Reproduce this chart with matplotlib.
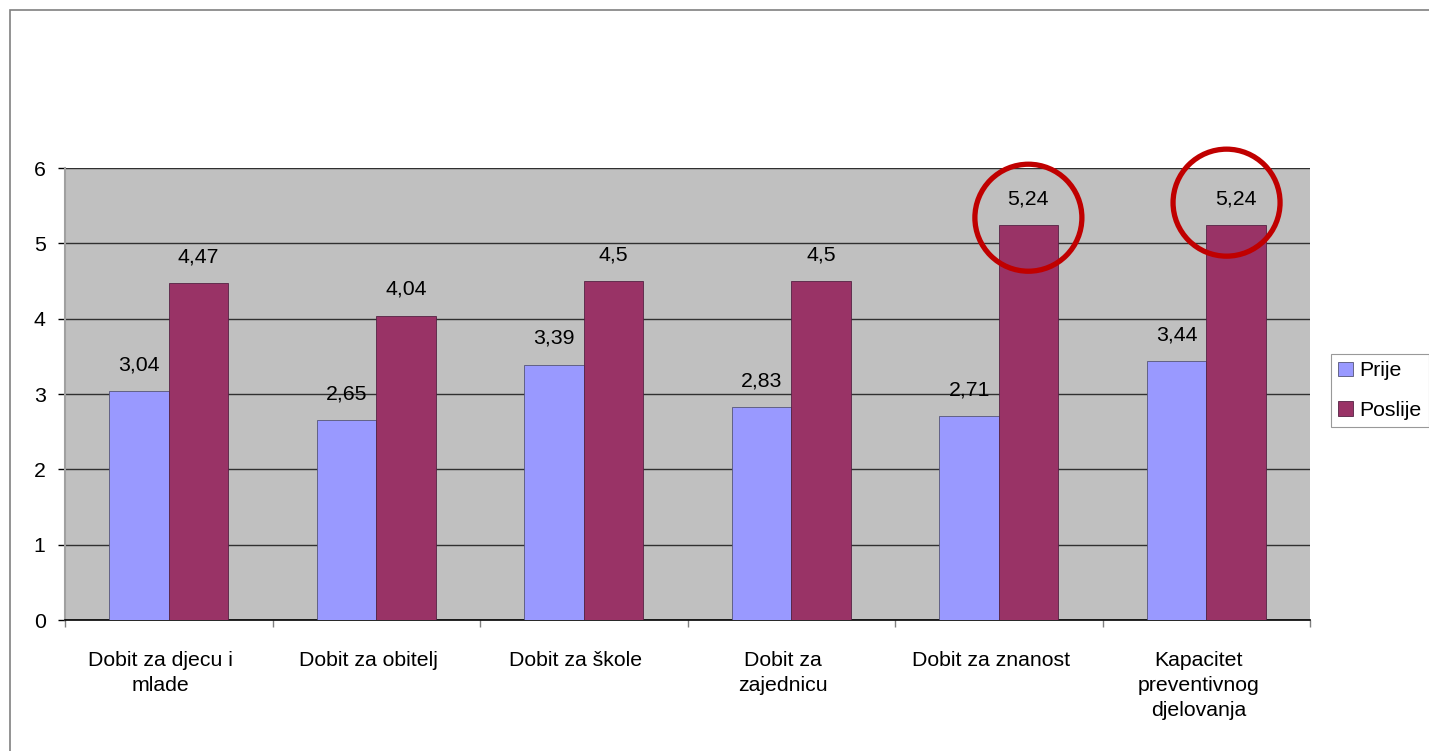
import matplotlib
matplotlib.use("Agg")
import matplotlib.pyplot as plt
import matplotlib.transforms as mtransforms
import numpy as np
from matplotlib.patches import Ellipse, Rectangle

categories = ["Dobit za djecu i\nmlade", "Dobit za obitelj", "Dobit za škole",
              "Dobit za\nzajednicu", "Dobit za znanost", "Kapacitet\npreventivnog\ndjelovanja"]
prije = [3.04, 2.65, 3.39, 2.83, 2.71, 3.44]
poslije = [4.47, 4.04, 4.5, 4.5, 5.24, 5.24]
series_names = ["Prije", "Poslije"]
highlight_idx = [4, 5]

plt.rcParams['font.family'] = ['Liberation Sans', 'DejaVu Sans']
FS = 15.3

W, H = 1429, 751
fig = plt.figure(figsize=(W/100, H/100), dpi=100)
fig.patch.set_facecolor('white')
# figure border
fig.patches.append(Rectangle((10/W, -0.1), 1.2, 1.1 - 10/H, transform=fig.transFigure,
                             fill=False, edgecolor='#808080', linewidth=1.2))

ax = fig.add_axes([65/W, 1-620/H, (1310-65)/W, (620-168)/H])
ax.set_facecolor('#C0C0C0')

x = np.arange(len(categories))
bw = 1/3.5
b1 = ax.bar(x - bw/2, prije, bw, color='#9999FF', edgecolor='#555577', linewidth=0.6, label=series_names[0], zorder=3)
b2 = ax.bar(x + bw/2, poslije, bw, color='#993366', edgecolor='#552244', linewidth=0.6, label=series_names[1], zorder=3)

def fmt(v):
    return ('%g' % v).replace('.', ',')

for bars, vals in ((b1, prije), (b2, poslije)):
    for r, v in zip(bars, vals):
        ax.annotate(fmt(v), (r.get_x() + r.get_width()/2, v), xytext=(0, 12),
                    textcoords='offset points', ha='center', va='bottom', fontsize=FS, zorder=5)

ax.set_xlim(-0.5, len(categories) - 0.5)
ax.set_ylim(0, 6)
ax.set_yticks(range(0, 7))
ax.yaxis.grid(True, color='#303030', linewidth=1.0, zorder=1)
ax.set_axisbelow(True)
ax.tick_params(axis='y', length=5, width=1, labelsize=FS, pad=9, color='black')
ax.set_xticks(x)
ax.set_xticklabels(categories, fontsize=FS, linespacing=1.42)
ax.tick_params(axis='x', length=0, pad=22)
shift = mtransforms.ScaledTranslation(-8/100, 0, fig.dpi_scale_trans)
for lab in ax.get_xticklabels():
    lab.set_transform(lab.get_transform() + shift)
ax.set_xticks(np.arange(-0.5, len(categories)), minor=True)
ax.tick_params(axis='x', which='minor', length=5, color='#808080', width=1)
for s in ['top', 'right']:
    ax.spines[s].set_visible(False)
ax.spines['left'].set_color('#A0A0A0')
ax.spines['left'].set_linewidth(1.5)
ax.spines['bottom'].set_color('black')
ax.spines['bottom'].set_linewidth(1.2)

# highlight circles around top values
px_per_x = (1310-65)/6
px_per_y = (620-168)/6
for i, dy, dx in zip(highlight_idx, [0.1, 0.3], [0.0, -0.045]):
    cx = x[i] + bw/2 + dx
    cy = poslije[i] + dy
    e = Ellipse((cx, cy), 107/px_per_x, 107/px_per_y, fill=False, edgecolor='#C00000',
                linewidth=3.8, zorder=6, clip_on=False)
    ax.add_patch(e)

leg = fig.legend(handles=[b1, b2], labels=series_names, loc='upper left',
                 bbox_to_anchor=(1331/W, 1-354/H), fontsize=FS, frameon=True,
                 fancybox=False, edgecolor='#808080', handlelength=0.7, handleheight=0.7,
                 handletextpad=0.3, borderpad=0.35, labelspacing=0.95, borderaxespad=0)
leg.get_frame().set_linewidth(0.8)

fig.savefig('out.png', dpi=100, facecolor='white')
